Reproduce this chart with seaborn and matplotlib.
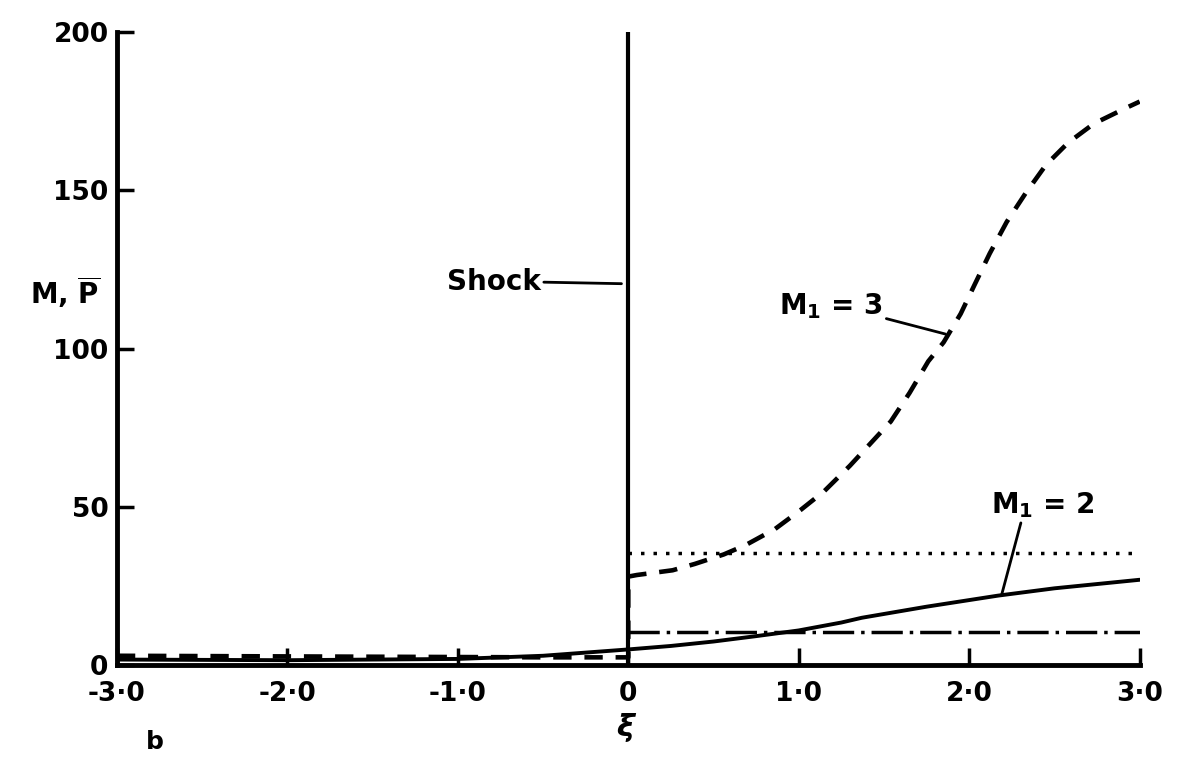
import numpy as np
import pandas as pd
import matplotlib
matplotlib.use("Agg")
import matplotlib.pyplot as plt
import seaborn as sns

# values (xi, M / P-bar)
xi_m3 = [-3.0, -2.0, -1.0, -0.5, 0.0, 0.0, 0.05, 0.26, 0.39, 0.56, 0.69,
         0.86, 1.01, 1.15, 1.30, 1.42, 1.54, 1.65, 1.76, 1.85, 1.95, 2.03,
         2.12, 2.22, 2.33, 2.45, 2.58, 2.73, 2.92, 3.0]
m3_vals = [3.0, 2.8, 2.6, 2.5, 2.5, 28, 28.5, 30, 32, 35, 38,
           43, 49, 55, 63, 70, 77, 86, 96, 102, 111, 120,
           130, 140, 149, 158, 165, 171, 176, 178]

xi_m2 = [-3.0, -2.0, -1.0, -0.5, 0.0, 0.25, 0.5, 0.75, 1.0, 1.25, 1.37,
         1.75, 2.17, 2.5, 3.0]
m2_vals = [1.8, 1.6, 2.0, 3.0, 5.0, 6.1, 7.5, 9.2, 11, 13.5, 15,
           18.5, 22, 24.3, 27]

xi_asym = [0.0, 3.0]
m3_asym = [35.5, 35.5]
m2_asym = [10.5, 10.5]

x_ticks = [-3, -2, -1, 0, 1, 2, 3]
x_labels = ["-3·0", "-2·0", "-1·0", "0", "1·0", "2·0", "3·0"]
y_ticks = [0, 50, 100, 150, 200]
y_labels = ["0", "50", "100", "150", "200"]

sns.set_theme(style="ticks")
plt.rcParams["font.family"] = ["DejaVu Sans"]
plt.rcParams["font.weight"] = "bold"
plt.rcParams["mathtext.default"] = "regular"
plt.rcParams["text.color"] = "black"

fig = plt.figure(figsize=(11.81, 7.79), dpi=100)
ax = fig.add_axes([0.099, 0.146, 0.866, 0.813])

# M1 = 3 (dashed, jumps at the shock)
sns.lineplot(x=xi_m3, y=m3_vals, ax=ax, sort=False, estimator=None,
             color="black", lw=3.3, linestyle=(0, (4.0, 2.8)))
# M1 = 2 (solid)
sns.lineplot(x=xi_m2, y=m2_vals, ax=ax, sort=False, estimator=None,
             color="black", lw=2.8)
# downstream levels
sns.lineplot(x=xi_asym, y=m3_asym, ax=ax, estimator=None,
             color="black", lw=2.5, linestyle=(0, (1.0, 2.6)))
sns.lineplot(x=xi_asym, y=m2_asym, ax=ax, estimator=None,
             color="black", lw=2.5, linestyle=(0, (9, 2, 1, 2)))

# shock
ax.axvline(0, color="black", lw=3)

ax.set_xlim(-3, 3)
ax.set_ylim(0, 200)
ax.set_xticks(x_ticks)
ax.set_xticklabels(x_labels)
ax.set_yticks(y_ticks)
ax.set_yticklabels(y_labels)
ax.tick_params(axis="both", direction="in", length=12, width=2.5,
               labelsize=19, colors="black")
ax.tick_params(axis="x", pad=11)
ax.tick_params(axis="y", pad=6)
sns.despine(ax=ax)
for s in ["left", "bottom"]:
    ax.spines[s].set_linewidth(3.5)
    ax.spines[s].set_color("black")
ax.set_xlabel("")
ax.set_ylabel("")

ax.annotate("Shock", xy=(-0.04, 120.5), xytext=(-0.79, 121),
            fontsize=20, ha="center", va="center", color="black",
            arrowprops=dict(arrowstyle="-", color="black", lw=2,
                            shrinkA=0, shrinkB=0,
                            relpos=(1.0, 0.5)))
ax.annotate("M$_1$ = 3", xy=(1.86, 104.6), xytext=(1.19, 113.5),
            fontsize=20, ha="center", va="center", color="black",
            arrowprops=dict(arrowstyle="-", color="black", lw=2,
                            shrinkA=0, shrinkB=0,
                            relpos=(1.0, 0.1)))
ax.annotate("M$_1$ = 2", xy=(2.19, 22.2), xytext=(2.43, 50.7),
            fontsize=20, ha="center", va="center", color="black",
            arrowprops=dict(arrowstyle="-", color="black", lw=2,
                            shrinkA=0, shrinkB=0,
                            relpos=(0.3, 0.0)))

fig.text(0.055, 0.625, r"M, $\overline{P}$", fontsize=20,
         ha="center", va="center", color="black")
fig.text(0.529, 0.066, "ξ", fontsize=22, style="italic",
         ha="center", va="center", color="black")
fig.text(0.131, 0.047, "b", fontsize=18, ha="center", va="center",
         color="black")

fig.savefig("out.png", dpi=100, facecolor="white")
